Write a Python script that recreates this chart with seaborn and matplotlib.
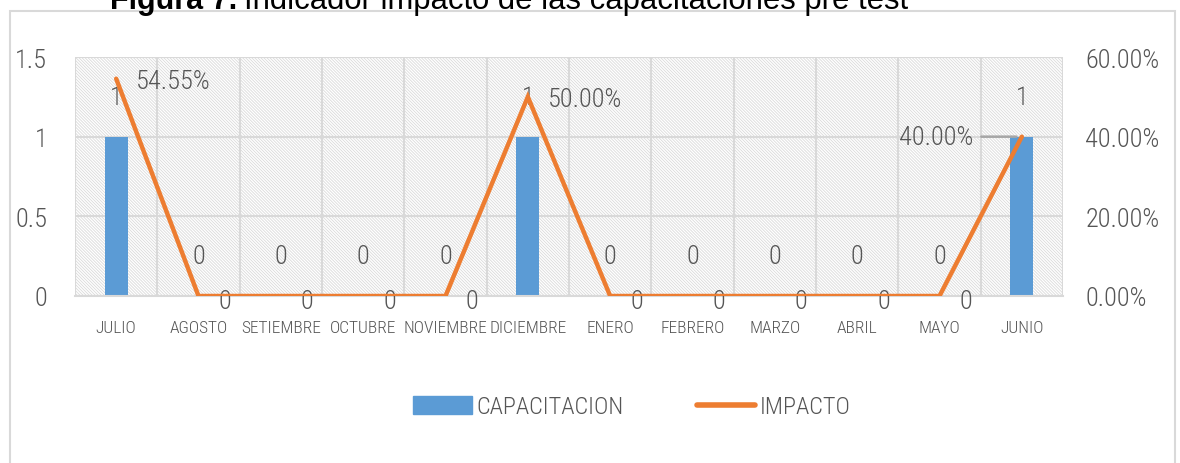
import numpy as np
import pandas as pd
import matplotlib
matplotlib.use("Agg")
import matplotlib.pyplot as plt
import seaborn as sns
from matplotlib.patches import Rectangle, Patch
from matplotlib.lines import Line2D
from matplotlib import font_manager as fm

# ---- data ----
months = ['JULIO', 'AGOSTO', 'SETIEMBRE', 'OCTUBRE', 'NOVIEMBRE', 'DICIEMBRE',
          'ENERO', 'FEBRERO', 'MARZO', 'ABRIL', 'MAYO', 'JUNIO']
capacitacion = [1, 0, 0, 0, 0, 1, 0, 0, 0, 0, 0, 1]
impacto = [0.5455, 0, 0, 0, 0, 0.50, 0, 0, 0, 0, 0, 0.40]
left_ticks = [0, 0.5, 1, 1.5]
right_ticks = [0, 0.2, 0.4, 0.6]
series_names = ['CAPACITACION', 'IMPACTO']
title_bold = "Figura 7."
title_rest = "Indicador impacto de las capacitaciones pre test"

sns.set_theme(style="white")
available = {f.name for f in fm.fontManager.ttflist}
narrow = next((f for f in ['Roboto Condensed', 'Archivo Narrow', 'PT Sans Narrow',
                           'Open Sans Condensed', 'Fira Sans Condensed',
                           'Encode Sans Condensed', 'Liberation Sans Narrow',
                           'Pragati Narrow']
               if f in available), 'DejaVu Sans')
plt.rcParams['font.family'] = [narrow, 'DejaVu Sans']
plt.rcParams['font.weight'] = 'light'
plt.rcParams['hatch.color'] = '#dadada'
plt.rcParams['hatch.linewidth'] = 0.6

TXT = '#555555'
GRID = '#d9d9d9'
BLUE = '#5B9BD5'
ORANGE = '#ED7D31'
W, H = 1180, 464
FS = 19

df = pd.DataFrame({'mes': months, 'cap': capacitacion, 'imp': impacto,
                   'pos': np.arange(len(months))})

fig = plt.figure(figsize=(W / 100, H / 100), dpi=100)
fig.patch.set_facecolor('white')
ax = fig.add_axes([75 / W, 1 - 297 / H, 988 / W, 239 / H])

# hatched plot-area background
ax.add_patch(Rectangle((0, 0), 1, 1, transform=ax.transAxes, fill=False,
                       hatch='\\' * 11, lw=0, edgecolor='#dadada', zorder=0))

sns.barplot(data=df, x='mes', y='cap', ax=ax, color=BLUE, saturation=1,
            width=0.28, zorder=2, linewidth=0)
ax.set_xlim(-0.5, len(months) - 0.5)
ax.set_ylim(0, 1.5)
ax.set_yticks(left_ticks)
ax.set_yticklabels([f"{t:g}" for t in left_ticks])
ax.set_xlabel('')
ax.set_ylabel('')
ax.set_xticks(np.arange(-0.5, len(months), 1), minor=True)
ax.grid(True, which='minor', axis='x', color=GRID, lw=1.5)
ax.grid(True, which='major', axis='y', color=GRID, lw=1.5)
ax.grid(False, which='major', axis='x')
ax.set_axisbelow(True)
for s in ['left', 'right', 'top']:
    ax.spines[s].set_visible(False)
ax.spines['bottom'].set_color(GRID)
ax.spines['bottom'].set_linewidth(1.5)
ax.tick_params(axis='x', which='major', length=0, pad=17, labelsize=12.5,
               labelcolor=TXT)
ax.tick_params(axis='x', which='minor', length=5, width=1.5, color=GRID)
ax.tick_params(axis='y', length=0, pad=20, labelsize=FS, labelcolor=TXT)

for i, v in enumerate(capacitacion):
    ax.annotate(f"{v:g}", (i, v), xytext=(0, 40), textcoords='offset pixels',
                ha='center', va='center', fontsize=FS, color=TXT, zorder=5)

ax2 = ax.twinx()
sns.lineplot(data=df, x='pos', y='imp', ax=ax2, color=ORANGE, lw=3.2,
             solid_capstyle='round', solid_joinstyle='miter', zorder=4)
ax2.set_ylim(0, 0.6)
ax2.set_xlim(-0.5, len(months) - 0.5)
ax2.set_yticks(right_ticks)
ax2.set_yticklabels([f"{t:.2%}" for t in right_ticks])
ax2.set_xlabel('')
ax2.set_ylabel('')
for s in ax2.spines.values():
    s.set_visible(False)
ax2.tick_params(axis='y', length=0, pad=16, labelsize=FS, labelcolor=TXT)

for i, v in enumerate(impacto):
    lab = f"{v:.2%}" if v else "0"
    if i == len(impacto) - 1:
        ax2.annotate(lab, (i, v), xytext=(-48, 0), textcoords='offset pixels',
                     ha='right', va='center', fontsize=FS, color=TXT,
                     arrowprops=dict(arrowstyle='-', color='#a6a6a6', lw=1.8,
                                     shrinkA=3, shrinkB=4))
    else:
        ax2.annotate(lab, (i, v), xytext=(20, -5 if v == 0 else -2),
                     textcoords='offset pixels', ha='left', va='center',
                     fontsize=FS, color=TXT)

# legend
handles = [Patch(facecolor=BLUE, edgecolor=BLUE),
           Line2D([0], [0], color=ORANGE, lw=4, solid_capstyle='round')]
fig.legend(handles, series_names, loc='center',
           bbox_to_anchor=(632 / W, 1 - 408 / H), ncol=2, frameon=False,
           fontsize=17.5, handlelength=2.4, handleheight=0.8, columnspacing=3.0,
           handletextpad=0.2, labelcolor=TXT)

# chart border
fig.patches.append(Rectangle((10 / W, -0.02), 1165 / W, (H - 12) / H + 0.02,
                             transform=fig.transFigure, fill=False,
                             edgecolor=GRID, lw=1.5))

# partially visible title
t1 = fig.text(110 / W, 1 - 9 / H, title_bold, fontsize=22, fontweight='bold',
              family=['Liberation Sans', 'DejaVu Sans'], va='baseline',
              ha='left', color='black')
fig.canvas.draw()
bb = t1.get_window_extent()
fig.text((bb.x1 + 7) / W, 1 - 9 / H, title_rest, fontsize=22.3,
         fontweight='normal', family=['Liberation Sans', 'DejaVu Sans'],
         va='baseline', ha='left', color='black')

fig.savefig('out.png', dpi=100)
